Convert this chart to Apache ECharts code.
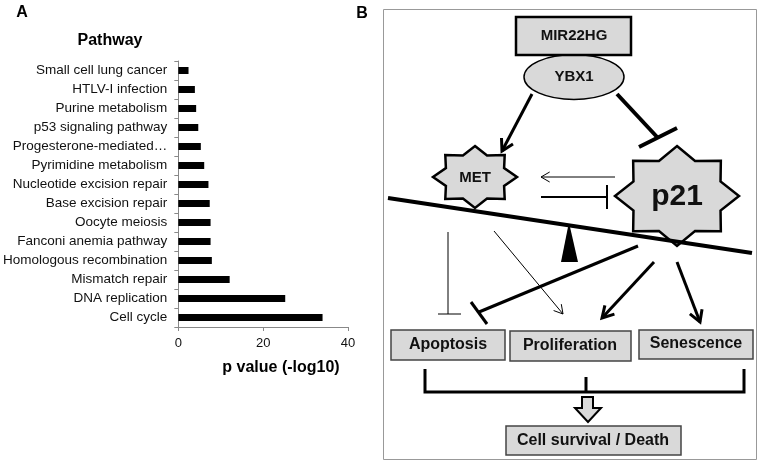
<!DOCTYPE html>
<html><head><meta charset="utf-8">
<script src="https://cdn.jsdelivr.net/npm/echarts@6/dist/echarts.min.js"></script>
<style>html,body{margin:0;padding:0;background:#fff}#c{width:762px;height:464px}</style>
</head><body><div id="c"></div>
<script>
var categories = ["Small cell lung cancer","HTLV-I infection","Purine metabolism","p53 signaling pathway","Progesterone-mediated\u2026","Pyrimidine metabolism","Nucleotide excision repair","Base excision repair","Oocyte meiosis","Fanconi anemia pathway","Homologous recombination","Mismatch repair","DNA replication","Cell cycle"];
var pValues = [2.4,3.9,4.2,4.7,5.3,6.1,7.1,7.4,7.6,7.6,7.9,12.1,25.2,34.0];
var xTicks = [0,20,40];

var FONT = "Arial, 'Liberation Sans', sans-serif";
var FILL = '#d9d9d9';

function star(cx, cy, rx, ry, inner){
  var pts=[];
  for(var i=0;i<16;i++){
    var a=-Math.PI/2+i*Math.PI/8, r=(i%2===0)?1:inner;
    pts.push([cx+rx*r*Math.cos(a), cy+ry*r*Math.sin(a)]);
  }
  return pts;
}
function line(x1,y1,x2,y2,w,z){
  return {type:'line',z:z||5,shape:{x1:x1,y1:y1,x2:x2,y2:y2},style:{stroke:'#000',lineWidth:w,lineCap:'butt'}};
}
function head(x1,y1,x2,y2,L,w){
  var t=Math.atan2(y2-y1,x2-x1), a=Math.PI/6;
  return {type:'polyline',z:5,shape:{points:[[x2-L*Math.cos(t-a),y2-L*Math.sin(t-a)],[x2,y2],[x2-L*Math.cos(t+a),y2-L*Math.sin(t+a)]]},style:{stroke:'#000',lineWidth:w,fill:null,lineJoin:'miter'}};
}
function arrow(x1,y1,x2,y2,w,L){ return [line(x1,y1,x2,y2,w), head(x1,y1,x2,y2,L,w)]; }
function txt(x,y,s,size){
  return {type:'text',z:20,x:x,y:y,style:{text:s,fill:'#111',font:'bold '+size+'px '+FONT,textAlign:'center',textVerticalAlign:'middle'}};
}
function box(x,y,w,h,lw,stroke){
  return {type:'rect',z:4,shape:{x:x,y:y,width:w,height:h},style:{fill:FILL,stroke:stroke||'#444',lineWidth:lw||1.5}};
}

var g = [];
// panel labels
g.push({type:'text',z:20,x:22,y:13,style:{text:'A',fill:'#000',font:'bold 16px '+FONT,textAlign:'center',textVerticalAlign:'middle'}});
g.push({type:'text',z:20,x:362,y:14,style:{text:'B',fill:'#000',font:'bold 16px '+FONT,textAlign:'center',textVerticalAlign:'middle'}});
g.push({type:'text',z:20,x:110,y:41,style:{text:'Pathway',fill:'#000',font:'bold 16px '+FONT,textAlign:'center',textVerticalAlign:'middle'}});
g.push({type:'text',z:20,x:281,y:368,style:{text:'p value (-log10)',fill:'#000',font:'bold 16px '+FONT,textAlign:'center',textVerticalAlign:'middle'}});
// frame
g.push({type:'rect',z:1,shape:{x:383.5,y:9.5,width:373,height:450},style:{fill:null,stroke:'#999',lineWidth:1}});
// MIR22HG / YBX1
g.push({type:'ellipse',z:3,shape:{cx:574,cy:77,rx:50,ry:22.5},style:{fill:FILL,stroke:'#000',lineWidth:1.5}});
g.push(box(516,17,115,38,2.5,'#000'));
g.push(txt(574,36,'MIR22HG',15));
g.push(txt(574,77,'YBX1',15));
// stars
g.push({type:'polygon',z:3,shape:{points:star(475,177,42,31,0.75)},style:{fill:FILL,stroke:'#000',lineWidth:2.5,lineJoin:'miter'}});
g.push({type:'polygon',z:3,shape:{points:star(677,196,62,50,0.76)},style:{fill:FILL,stroke:'#000',lineWidth:2.5,lineJoin:'miter'}});
g.push(txt(475,178,'MET',15));
g.push(txt(677,197,'p21',30));
// arrows
g = g.concat(arrow(532,94,502,151,3,13));
g.push(line(617,94,658,138,4));
g.push(line(639,147,677,128,4));
g = g.concat(arrow(615,177,541,177,1,10));
g.push(line(541,197,607,197,2));
g.push(line(607,185,607,209,2));
// seesaw
g.push(line(388,198,752,253,4,6));
g.push({type:'polygon',z:6,shape:{points:[[568,227],[570,227],[578,262],[561,262]]},style:{fill:'#000'}});
// lower arrows
g.push(line(448,232,448,314,1));
g.push(line(438,314,461,314,1));
g = g.concat(arrow(494,231,563,314,1,10));
g.push(line(638,246,479,312,3));
g.push(line(471,302,487,324,3));
g = g.concat(arrow(654,262,602,318,3,13));
g = g.concat(arrow(677,262,700,322,3,13));
// outcome boxes
g.push(box(391,330,114,30)); g.push(txt(448,345,'Apoptosis',16));
g.push(box(510,331,121,30)); g.push(txt(570,346,'Proliferation',16));
g.push(box(639,330,114,29)); g.push(txt(696,344,'Senescence',16));
// bracket
g.push({type:'polyline',z:5,shape:{points:[[425,369],[425,392],[744,392],[744,369]]},style:{stroke:'#000',lineWidth:3,fill:null}});
g.push(line(586,377,586,392,3));
// block arrow
g.push({type:'polygon',z:5,shape:{points:[[582,397],[593,397],[593,408],[601,408],[588,422],[575,408],[582,408]]},style:{fill:FILL,stroke:'#000',lineWidth:2,lineJoin:'miter'}});
g.push(box(506,426,175,29)); g.push(txt(593,441,'Cell survival / Death',16));

var chart = echarts.init(document.getElementById('c'));
chart.setOption({
  animation:false,
  backgroundColor:'#fff',
  grid:{left:178,right:414,top:61,bottom:137,containLabel:false},
  xAxis:{type:'value',min:xTicks[0],max:xTicks[xTicks.length-1],interval:20,
    axisLine:{show:true,lineStyle:{color:'#888',width:1}},
    axisTick:{show:true,length:4,lineStyle:{color:'#888'}},
    axisLabel:{fontFamily:FONT,fontSize:13,color:'#111',margin:10},
    splitLine:{show:false}},
  yAxis:{type:'category',data:categories,inverse:true,
    axisLine:{show:true,lineStyle:{color:'#888',width:1}},
    axisTick:{show:true,length:4,lineStyle:{color:'#888'}},
    axisLabel:{fontFamily:FONT,fontSize:13.5,color:'#111',margin:11}},
  series:[{type:'bar',data:pValues,barWidth:7,itemStyle:{color:'#000'},silent:true}],
  graphic:g
});
</script></body></html>
